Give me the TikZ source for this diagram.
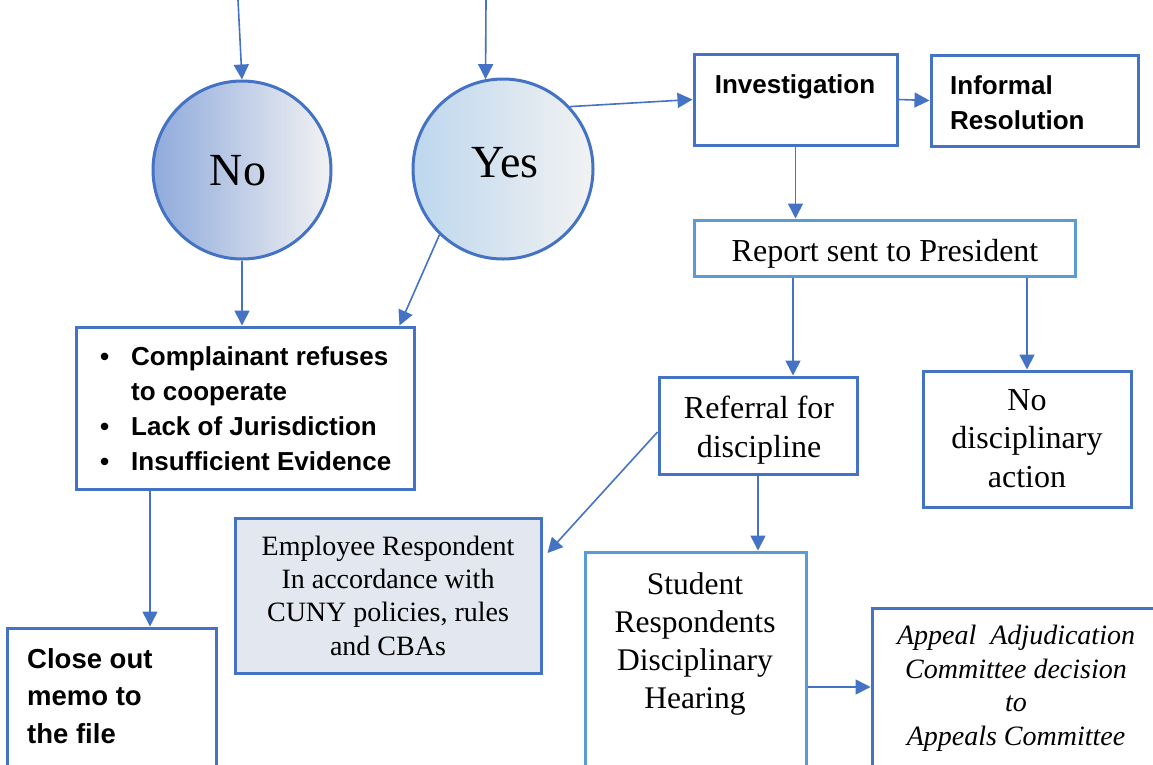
\documentclass[tikz,border=0pt]{standalone}
\usepackage{fontspec}
\setmainfont{Liberation Serif}
\newfontfamily\sansfont{Liberation Sans}
\usetikzlibrary{arrows.meta}
\definecolor{bl}{HTML}{4472C4}
\definecolor{lbl}{HTML}{5B9BD5}
\definecolor{nol}{HTML}{8FAADC}
\definecolor{yesl}{HTML}{BDD7EE}
\definecolor{endc}{HTML}{F2F2F2}
\definecolor{empf}{HTML}{E3E7EF}
\newcommand{\fsz}[2]{\fontsize{#1}{#2}\selectfont}
\begin{document}
\begin{tikzpicture}[x=1pt,y=-1pt,
  box/.style={draw=bl, line width=3pt, inner sep=0pt, fill=white},
  lbox/.style={draw=lbl, line width=3pt, inner sep=0pt, fill=white},
  conn/.style={draw=bl, line width=1.6pt, -{Triangle[length=15pt,width=15pt]}},
  circ/.style={circle, draw=bl, line width=3pt, inner sep=0pt, minimum size=178pt},
  sbold/.style={font=\sansfont\bfseries\fsz{26}{34.7}, inner sep=0pt},
  serif/.style={inner sep=0pt, align=center},
]
\useasboundingbox (0,0) rectangle (1153,764);
\clip (0,0) rectangle (1153,764);
\fill[white] (0,0) rectangle (1153,764);

% circles
\node[circ, left color=nol, right color=endc] (no) at (242,170) {};
\node[circ, left color=yesl, right color=endc, minimum size=180pt] (yes) at (503,169) {};
\node[anchor=base, inner sep=0pt, font=\fsz{46}{50}] (notxt) at (238,185) {No};
\node[anchor=base, inner sep=0pt, font=\fsz{46}{50}] (yestxt) at (505,177) {Yes};

% boxes
\node[box, minimum width=203pt, minimum height=91pt] (inv) at (795.5,99.5) {};
\node[sbold, anchor=base] (invtxt) at (795,93) {Investigation};
\node[box, minimum width=207pt, minimum height=91pt] (inf) at (1034.5,100.5) {};
\node[sbold, anchor=base west, align=left] (inftxt) at (950,129) {Informal\\Resolution};

\node[lbox, minimum width=381pt, minimum height=56pt] (rep) at (884.5,248) {};
\node[anchor=base, inner sep=0pt, font=\fsz{32}{36}] (reptxt) at (885,261) {Report sent to President};

\node[box, minimum width=198pt, minimum height=97pt] (ref) at (758,425.5) {};
\node[serif, anchor=base, font=\fsz{32}{38.5}] (reftxt) at (759,457) {Referral for\\discipline};

\node[box, minimum width=208pt, minimum height=136pt] (nod) at (1027,439) {};
\node[serif, anchor=base, font=\fsz{32}{38.5}] (nodtxt) at (1027,487) {No\\disciplinary\\action};

\node[box, minimum width=338pt, minimum height=162pt] (bul) at (245,408) {};
\node[sbold, anchor=base west, align=left] (bultxt) at (100,470)
  {\makebox[31pt][l]{\textbullet}Complainant refuses\\\hspace*{31pt}to cooperate\\\makebox[31pt][l]{\textbullet}Lack of Jurisdiction\\\makebox[31pt][l]{\textbullet}Insufficient Evidence};

\node[box, minimum width=209pt, minimum height=142pt] (clo) at (111.5,699) {};
\node[sbold, anchor=base west, align=left, font=\sansfont\bfseries\fsz{27.5}{37.5}] (clotxt) at (27,743) {Close out\\memo to\\the file};

\node[box, fill=empf, minimum width=306pt, minimum height=155pt] (emp) at (388,595.5) {};
\node[serif, anchor=base, font=\fsz{28}{33.3}] (emptxt) at (388,655) {Employee Respondent\\In accordance with\\CUNY policies, rules\\and CBAs};

\node[lbox, minimum width=221pt, minimum height=228pt] (stu) at (695.5,666) {};
\node[serif, anchor=base, font=\fsz{31.5}{37.7}] (stutxt) at (695,708) {Student\\Respondents\\Disciplinary\\Hearing};

\node[box, minimum width=288pt, minimum height=158pt] (app) at (1016,687) {};
\node[serif, anchor=base, font=\itshape\fsz{28}{33.5}] (apptxt) at (1016,745) {Appeal\ \ Adjudication\\Committee decision\\to\\Appeals Committee};

% connectors
\coordinate (inno) at (238,0);
\coordinate (inyes) at (486,0);
\draw[conn] (inno) -- (no.north);
\draw[conn] (inyes) -- (yes.101);
\draw[conn] (no.south) -- (no.south |- bul.north);
\draw[conn] (yes.226) -- ([xshift=-16pt]bul.north east);
\draw[conn] (yes.43) -- (inv.west);
\draw[conn] (inv.east) -- (inf.west);
\draw[conn] (inv.south) -- (inv.south |- rep.north);
\draw[conn] ([xshift=35pt]ref.north |- rep.south) -- ([xshift=35pt]ref.north);
\draw[conn] (nod.north |- rep.south) -- (nod.north);
\draw[conn] ([yshift=-6.5pt]ref.west) -- ([xshift=5pt,yshift=42.5pt]emp.east);
\draw[conn] (ref.south) -- (ref.south |- stu.north);
\draw[conn] (app.west -| stu.east) -- (app.west);
\draw[conn] ([xshift=38.5pt]clo.north |- bul.south) -- ([xshift=38.5pt]clo.north);
\end{tikzpicture}
\end{document}
